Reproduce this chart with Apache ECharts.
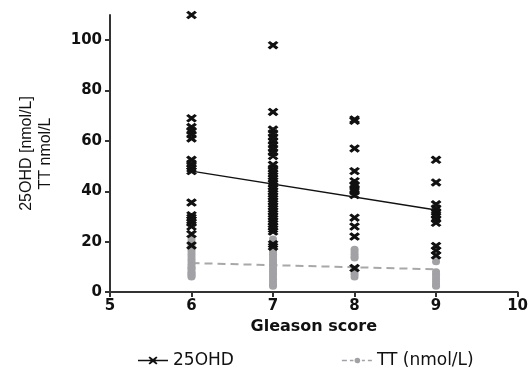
<!DOCTYPE html>
<html>
<head>
<meta charset="utf-8">
<script src="https://cdn.jsdelivr.net/npm/echarts@6/dist/echarts.min.js"></script>
<style>
  html, body { margin: 0; padding: 0; background: #fff; }
  #chart { width: 531px; height: 371px; }
</style>
</head>
<body>
<div id="chart"></div>
<script>
// Gleason score groups
const scores = [6, 7, 8, 9];

// 25OHD [nmol/L] per Gleason score
const ohd6 = [110, 69, 65.5, 64, 62.5, 61, 52.5, 51, 50, 49, 48, 35.5, 30.5, 29.5, 28.5, 27.5, 26, 23, 18.5];
const ohd7 = [98, 71.5, 64.5, 63, 61.5, 60, 58.5, 57, 55.5, 54, 50.5, 49, 48, 47, 46, 45, 44, 43, 42, 41, 40,
  39, 38, 37, 36, 35, 34, 33, 32, 31, 30, 29, 28, 27, 26, 25, 24, 19, 18];
const ohd8 = [68.5, 68, 57, 48, 44, 42.5, 41, 40, 38.5, 29.5, 26, 22, 9.5];
const ohd9 = [52.5, 43.5, 34.8, 33.2, 31.8, 30.5, 29, 27.5, 18.3, 16.5, 14.5];

// TT nmol/L per Gleason score
const tt6 = [21, 20, 19, 18, 17, 16, 15, 14, 13, 12, 11, 10, 9.5, 9, 8, 7.5, 7, 6.5, 6];
const tt7 = [21, 20, 19, 18, 17, 16, 15, 14, 13, 12, 11, 10, 9, 8, 7, 6, 5, 4, 3, 2.3];
const tt8 = [17, 16, 15, 14, 13.5, 9, 8, 7, 6];
const tt9 = [12, 8, 7, 6, 5, 4, 3, 2.3];

// fitted lines (start at score 6, end at score 9)
const fitScores = [6, 9];
const ohdFit = [48.0, 32.6];
const ttFit = [11.5, 9.0];

const yTicks = [0, 20, 40, 60, 80, 100];

const pairs = (groups) => {
  const out = [];
  groups.forEach((vals, i) => vals.forEach((v) => out.push([scores[i], v])));
  return out;
};

const crossPath = "path://M0,1.6 L1.6,0 L5,3.3 L8.4,0 L10,1.6 L6.7,5 L10,8.4 L8.4,10 L5,6.7 L1.6,10 L0,8.4 L3.3,5 Z";
const ohdIcon = "path://M0,3.2 H30 V4.8 H0 Z M10.5,1 L11.8,0 L15,2.4 L18.2,0 L19.5,1 L16.6,4 L19.5,7 L18.2,8 L15,5.6 L11.8,8 L10.5,7 L13.4,4 Z";
const ttIcon = "path://M0,3.3 h5 v1.4 h-5 Z M8,3.3 h3.5 v1.4 h-3.5 Z M15.5,1.2 a2.8,2.8 0 1,0 0.01,0 Z M20,3.3 h3 v1.4 h-3 Z M26,3.3 h4 v1.4 h-4 Z M0,0 h0.01 v0.01 h-0.01 Z M30,8 h-0.01 v-0.01 h0.01 Z";

const chart = echarts.init(document.getElementById("chart"));

const axisCommon = {
  axisLine: { show: true, lineStyle: { color: "#333", width: 2 } },
  axisTick: { show: true, length: 5, lineStyle: { color: "#333", width: 2 } },
  splitLine: { show: false },
};

chart.setOption({
  backgroundColor: "#fff",
  animation: false,
  grid: { left: 110, right: 11, top: 15, bottom: 79 },
  legend: {
    left: 133,
    top: 347,
    itemGap: 108,
    itemWidth: 30,
    itemHeight: 8,
    textStyle: { fontFamily: "DejaVu Sans", fontSize: 17, color: "#111" },
    data: [
      { name: "25OHD", icon: ohdIcon, itemStyle: { borderWidth: 0 } },
      { name: "TT (nmol/L)", icon: ttIcon },
    ],
  },
  xAxis: {
    type: "value",
    min: 5,
    max: 10,
    interval: 1,
    name: "Gleason score",
    nameLocation: "middle",
    nameGap: 26,
    nameTextStyle: { fontFamily: "DejaVu Sans", fontWeight: "bold", fontSize: 16, color: "#111" },
    ...axisCommon,
    axisLabel: { fontFamily: "DejaVu Sans", fontWeight: "bold", fontSize: 15, color: "#111", margin: 7 },
  },
  yAxis: {
    type: "value",
    min: 0,
    max: 110,
    name: "25OHD [nmol/L]\nTT nmol/L",
    nameLocation: "middle",
    nameGap: 55,
    nameTextStyle: { fontFamily: "Liberation Sans", fontSize: 16, color: "#111", lineHeight: 19 },
    ...axisCommon,
    axisTick: { show: true, length: 5, customValues: yTicks, lineStyle: { color: "#333", width: 2 } },
    axisLabel: { fontFamily: "DejaVu Sans", fontWeight: "bold", fontSize: 15, color: "#111", margin: 8, customValues: yTicks },
  },
  series: [
    {
      name: "TT fit",
      type: "line",
      data: fitScores.map((s, i) => [s, ttFit[i]]),
      symbol: "none",
      lineStyle: { color: "#a8a8a8", width: 2, type: [8, 5] },
      z: 1,
    },
    {
      name: "TT (nmol/L)",
      type: "scatter",
      data: pairs([tt6, tt7, tt8, tt9]),
      symbol: "circle",
      symbolSize: [8, 7],
      itemStyle: { color: "#a2a2a6", opacity: 1 },
      z: 2,
    },
    {
      name: "25OHD",
      type: "scatter",
      data: pairs([ohd6, ohd7, ohd8, ohd9]),
      symbol: crossPath,
      symbolSize: [9, 7],
      itemStyle: { color: "#111", opacity: 1, borderColor: "#111", borderWidth: 1.2 },
      z: 3,
    },
    {
      name: "25OHD fit",
      type: "line",
      data: fitScores.map((s, i) => [s, ohdFit[i]]),
      symbol: "none",
      lineStyle: { color: "#111", width: 1.5 },
      z: 4,
    },
  ],
});
</script>
</body>
</html>
